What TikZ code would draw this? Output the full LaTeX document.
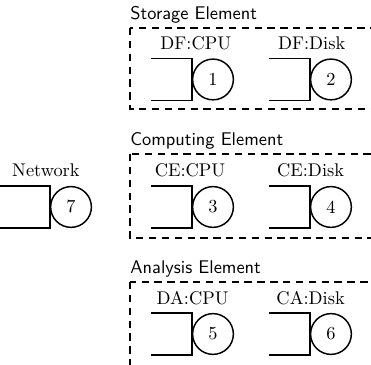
\documentclass[tikz,border=0pt]{standalone}
\usetikzlibrary{positioning}

\tikzset{
  server/.style={circle, draw, thick, minimum size=0.78cm, inner sep=0pt},
  element/.style={draw, thick, dash pattern=on 4pt off 3pt},
  qlabel/.style={anchor=base, inner sep=0pt},
  etitle/.style={anchor=base west, inner sep=0pt, font=\sffamily},
}
% waiting line of a server: open box left of the circle
\newcommand{\qline}[2][0.785cm]{%
  \draw[thick] (#2.west |- #2.north) ++(-#1,0) -- ++(#1,0)
    -- (#2.west |- #2.south) -- ++(-#1,0);}

\begin{document}
\begin{tikzpicture}
        \clip (0,0) rectangle (7.1,-6.985);

        % Network (left)
        \node[server] (s7) at (1.359,-3.961) {7};
        \qline[0.96cm]{s7}
        \node[qlabel] (l7) at ([xshift=-0.48cm,yshift=0.17cm]s7.north) {Network};

        % Storage Element (top row)
        \coordinate (se) at (2.49,-0.536);
        \draw[element] (se) rectangle ++(5,-1.55);
        \node[etitle] (set) at ([yshift=0.17cm]se) {Storage Element};
        \node[server] (s1) at (4.076,-1.521) {1};
        \node[server] (s2) at (6.334,-1.521) {2};
        \qline{s1}
        \qline{s2}
        \node[qlabel] (l1) at ([xshift=-0.33cm,yshift=0.17cm]s1.north) {DF:CPU};
        \node[qlabel] (l2) at ([xshift=-0.37cm,yshift=0.17cm]s2.north) {DF:Disk};

        % Computing Element (middle row)
        \coordinate (ce) at (2.49,-2.947);
        \draw[element] (ce) rectangle ++(5,-1.608);
        \node[etitle] (cet) at ([yshift=0.17cm]ce) {Computing Element};
        \node[server] (s3) at (4.076,-3.961) {3};
        \node[server] (s4) at (6.334,-3.961) {4};
        \qline{s3}
        \qline{s4}
        \node[qlabel] (l3) at ([xshift=-0.44cm,yshift=0.17cm]s3.north) {CE:CPU};
        \node[qlabel] (l4) at ([xshift=-0.39cm,yshift=0.17cm]s4.north) {CE:Disk};

        % Analysis Element (bottom row)
        \coordinate (ae) at (2.49,-5.397);
        \draw[element] (ae) rectangle ++(5,-1.7);
        \node[etitle] (aet) at ([yshift=0.17cm]ae) {Analysis Element};
        \node[server] (s5) at (4.076,-6.392) {5};
        \node[server] (s6) at (6.334,-6.392) {6};
        \qline{s5}
        \qline{s6}
        \node[qlabel] (l5) at ([xshift=-0.39cm,yshift=0.17cm]s5.north) {DA:CPU};
        \node[qlabel] (l6) at ([xshift=-0.39cm,yshift=0.17cm]s6.north) {CA:Disk};
\end{tikzpicture}
\end{document}
